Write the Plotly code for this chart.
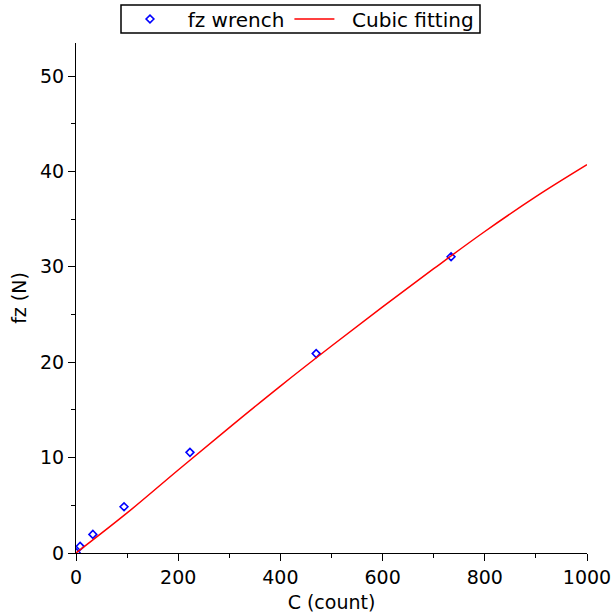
import plotly.graph_objects as go

# measured data (fz wrench)
c_count = [0, 8, 33, 94, 223, 470, 734]
fz_newton = [0.05, 0.7, 1.95, 4.85, 10.55, 20.9, 31.05]

# cubic fitting curve
fit_c = [0, 100, 200, 300, 400, 500, 600, 700, 800, 900, 1000]
fit_fz = [0, 4.2, 8.7, 13.15, 17.5, 21.7, 25.8, 29.8, 33.7, 37.35, 40.7]

font = "DejaVu Sans"
fs = 19

fig = go.Figure()
fig.add_trace(go.Scatter(
    x=c_count, y=fz_newton, mode="markers", name="  fz wrench",
    marker=dict(symbol="diamond-open", size=6, color="#0000ff",
                line=dict(width=1.6, color="#0000ff")),
))
fig.add_trace(go.Scatter(
    x=fit_c, y=fit_fz, mode="lines", name="  Cubic fitting",
    line=dict(color="#ff0000", width=1.5, shape="spline"),
))

axis_common = dict(
    showgrid=False, zeroline=False, showline=True, linecolor="black",
    linewidth=1, ticks="outside", ticklen=7, tickcolor="black",
    tickfont=dict(family=font, size=fs, color="black"),
    automargin=False,
)

# legend frame (drawn as a shape so its height matches the reference)
fig.add_shape(type="rect", xref="paper", yref="paper",
              x0=(121 - 76) / 511, x1=(480 - 76) / 511,
              y0=(553 - 33) / 510, y1=(553 - 5) / 510,
              line=dict(color="black", width=1.5), fillcolor="rgba(0,0,0,0)")

fig.update_layout(
    width=614, height=615,
    margin=dict(l=76, r=27, t=43, b=62),
    paper_bgcolor="white", plot_bgcolor="white",
    font=dict(family=font, size=fs, color="black"),
    showlegend=True,
    legend=dict(
        orientation="h",
        xref="container", x=125 / 614, xanchor="left",
        yref="container", y=1 - 19 / 615, yanchor="middle",
        borderwidth=0, bgcolor="rgba(0,0,0,0)",
        font=dict(family=font, size=20, color="black"),
        itemwidth=40,
    ),
    xaxis=dict(
        range=[0, 1000], dtick=200, tick0=0,
        minor=dict(dtick=100, ticklen=4, ticks="outside", tickcolor="black"),
        title=dict(text="C (count)", font=dict(family=font, size=fs), standoff=8),
        **axis_common,
    ),
    yaxis=dict(
        range=[0, 53.46], dtick=10, tick0=0,
        minor=dict(dtick=5, ticklen=4, ticks="outside", tickcolor="black"),
        title=dict(text="fz (N)", font=dict(family=font, size=fs), standoff=8),
        **axis_common,
    ),
)

fig.write_html("out.html", config={"displayModeBar": False},
               post_script="document.body.style.margin='0';")
